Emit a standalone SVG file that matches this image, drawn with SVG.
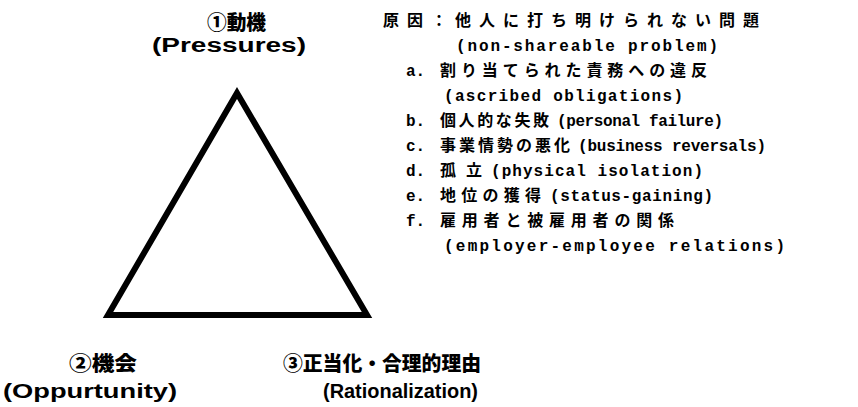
<svg xmlns="http://www.w3.org/2000/svg" width="858" height="407" viewBox="0 0 858 407">
<style>
.t{font-family:"Liberation Sans","Noto Sans CJK JP",sans-serif;font-weight:900;font-size:20px;fill:#000}
.l{font-family:"Liberation Mono","Noto Sans CJK JP",monospace;font-weight:bold;font-size:16px;fill:#000}
.c{font-family:"Noto Sans CJK JP",sans-serif;font-weight:bold;font-size:16px;fill:#000}
.tri{fill:none;stroke:#000;stroke-width:6;stroke-linejoin:miter}
</style>
<rect width="858" height="407" fill="#fff"/>
<g id="connectors">
<polygon class="tri" points="237,93 367,315 108,315"/>
</g>
<g id="node-pressures">
<text class="t" x="207" y="30" textLength="59" lengthAdjust="spacingAndGlyphs">①動機</text>
<text class="t" x="152" y="52" textLength="154" lengthAdjust="spacingAndGlyphs">(Pressures)</text>
</g>
<g id="node-causes">
<text class="c" x="383" y="26" textLength="376" lengthAdjust="spacing">原因：他人に打ち明けられない問題</text>
<text class="l" x="456" y="51" textLength="262" lengthAdjust="spacing">(non-shareable problem)</text>
<text class="l" x="406" y="76">a.</text>
<text class="c" x="440" y="76" textLength="267" lengthAdjust="spacing">割り当てられた責務への違反</text>
<text class="l" x="444" y="101" textLength="239" lengthAdjust="spacing">(ascribed obligations)</text>
<text class="l" x="406" y="126">b.</text>
<text class="c" x="440" y="126" textLength="109" lengthAdjust="spacing">個人的な失敗</text>
<text class="l" x="557" y="126" textLength="166" lengthAdjust="spacing">(personal failure)</text>
<text class="l" x="406" y="151">c.</text>
<text class="c" x="440" y="151" textLength="130" lengthAdjust="spacing">事業情勢の悪化</text>
<text class="l" x="578" y="151" textLength="188" lengthAdjust="spacing">(business reversals)</text>
<text class="l" x="406" y="176">d.</text>
<text class="c" x="440" y="176" textLength="42" lengthAdjust="spacing">孤立</text>
<text class="l" x="491" y="176" textLength="212" lengthAdjust="spacing">(physical isolation)</text>
<text class="l" x="406" y="201">e.</text>
<text class="c" x="440" y="201" textLength="101" lengthAdjust="spacing">地位の獲得</text>
<text class="l" x="550" y="201" textLength="163" lengthAdjust="spacing">(status-gaining)</text>
<text class="l" x="406" y="226">f.</text>
<text class="c" x="440" y="226" textLength="234" lengthAdjust="spacing">雇用者と被雇用者の関係</text>
<text class="l" x="444" y="251" textLength="341" lengthAdjust="spacing">(employer-employee relations)</text>
</g>
<g id="node-opportunity">
<text class="t" x="69" y="371" textLength="68" lengthAdjust="spacingAndGlyphs">②機会</text>
<text class="t" x="3" y="398" textLength="174" lengthAdjust="spacingAndGlyphs">(Oppurtunity)</text>
</g>
<g id="node-rationalization">
<text class="t" x="283" y="371" textLength="198" lengthAdjust="spacingAndGlyphs">③正当化・合理的理由</text>
<text class="t" x="323" y="398" textLength="155" lengthAdjust="spacingAndGlyphs">(Rationalization)</text>
</g>
</svg>
